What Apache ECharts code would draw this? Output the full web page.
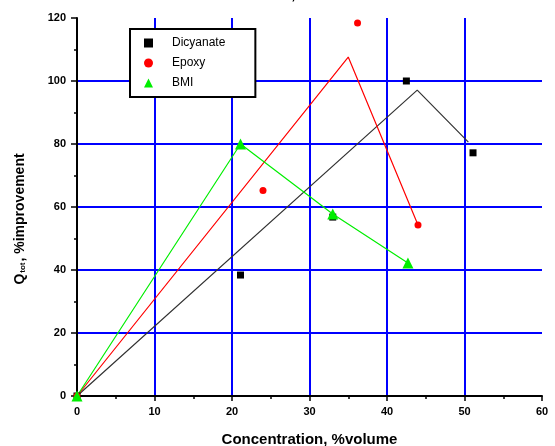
<!DOCTYPE html>
<html>
<head>
<meta charset="utf-8">
<script src="https://cdn.jsdelivr.net/npm/echarts@6/dist/echarts.min.js"></script>
<style>html,body{margin:0;padding:0;background:#fff}#c{width:555px;height:446px}</style>
</head>
<body>
<div id="c"></div>
<script>
const dicyanatePts = [[0,0],[21.1,38.4],[33.0,56.8],[42.5,100],[51.1,77.2]];
const epoxyPts = [[0,0],[24.0,65.2],[36.2,118.4],[44.0,54.3]];
const bmiPts = [[0,0],[21.1,80.0],[33.0,57.8],[42.7,42.2]];
const dicyanateLine = [[0,0],[43.9,97.1],[50.5,80.6]];
const epoxyLine = [[0,0],[35.0,107.6],[44.0,54.3]];
const bmiLine = [[0,0],[21.1,80.0],[33.0,57.8],[42.7,42.2]];
const xTitle = 'Concentration, %volume';
const topTitle = 'Concentration, %volume';

const chart = echarts.init(document.getElementById('c'), null, {renderer:'canvas'});
const font = 'Arial, "Liberation Sans", sans-serif';
chart.setOption({
  animation: false,
  backgroundColor: '#fff',
  title: {
    text: topTitle, left: 'center', top: -18,
    textStyle: {fontFamily: font, fontWeight: 'bold', fontSize: 15, color: '#000'}
  },
  grid: {left: 77, right: 13, top: 18, bottom: 50, containLabel: false, outerBoundsMode: 'none'},
  legend: {
    left: 130, top: 29, orient: 'vertical',
    backgroundColor: '#fff', borderColor: '#000', borderWidth: 2,
    padding: [8, 30, 8, 14], itemGap: 8, itemWidth: 9, itemHeight: 9,
    textStyle: {fontFamily: font, fontSize: 12, color: '#000', padding: [0,0,0,14]},
    data: ['Dicyanate', 'Epoxy', 'BMI']
  },
  xAxis: {
    type: 'value', min: 0, max: 60, interval: 10,
    name: xTitle, nameLocation: 'middle', nameGap: 36,
    nameTextStyle: {fontFamily: font, fontWeight: 'bold', fontSize: 15, color: '#000'},
    axisLine: {show: true, onZero: false, lineStyle: {color: '#000', width: 2}},
    axisTick: {show: true, inside: false, length: 5, lineStyle: {color: '#000', width: 1.5}},
    minorTick: {show: true, splitNumber: 2, length: 3, lineStyle: {color: '#000', width: 1.5}},
    axisLabel: {fontFamily: font, fontWeight: 'bold', fontSize: 11, color: '#000', margin: 10},
    splitLine: {show: true, showMinLine: false, showMaxLine: false, lineStyle: {color: '#0000ff', width: 2}}
  },
  yAxis: {
    type: 'value', min: 0, max: 120, interval: 20,
    name: '{q|Q}{s|tot}{q|, %improvement}', nameLocation: 'middle', nameGap: 50,
    nameTextStyle: {
      fontFamily: font, color: '#000', padding: [0, 0, 0, -24],
      rich: {
        q: {fontFamily: font, fontWeight: 'bold', fontSize: 14, color: '#000'},
        s: {fontFamily: font, fontWeight: 'bold', fontSize: 8, color: '#000', verticalAlign: 'bottom', padding: [6,1,0,1]}
      }
    },
    axisLine: {show: true, onZero: false, lineStyle: {color: '#000', width: 2}},
    axisTick: {show: true, inside: false, length: 6, lineStyle: {color: '#000', width: 1.5}},
    minorTick: {show: true, splitNumber: 2, length: 3, lineStyle: {color: '#000', width: 1.5}},
    axisLabel: {fontFamily: font, fontWeight: 'bold', fontSize: 11, color: '#000', margin: 11},
    splitLine: {show: true, showMinLine: false, showMaxLine: false, lineStyle: {color: '#0000ff', width: 2}}
  },
  series: [
    {type: 'line', data: dicyanateLine, symbol: 'none', lineStyle: {color: '#333', width: 1.2}, z: 3, silent: true},
    {type: 'line', data: epoxyLine, symbol: 'none', lineStyle: {color: '#ff0000', width: 1.2}, z: 3, silent: true},
    {type: 'line', data: bmiLine, symbol: 'none', lineStyle: {color: '#00ee00', width: 1.2}, z: 3, silent: true},
    {name: 'Dicyanate', type: 'scatter', data: dicyanatePts, symbol: 'rect', symbolSize: 7, itemStyle: {color: '#000', opacity: 1}, z: 5},
    {name: 'Epoxy', type: 'scatter', data: epoxyPts, symbol: 'circle', symbolSize: 7, itemStyle: {color: '#ff0000', opacity: 1}, z: 5},
    {name: 'BMI', type: 'scatter', data: bmiPts, symbol: 'triangle', symbolSize: 11, itemStyle: {color: '#00ee00', opacity: 1}, z: 5}
  ]
});
</script>
</body>
</html>
